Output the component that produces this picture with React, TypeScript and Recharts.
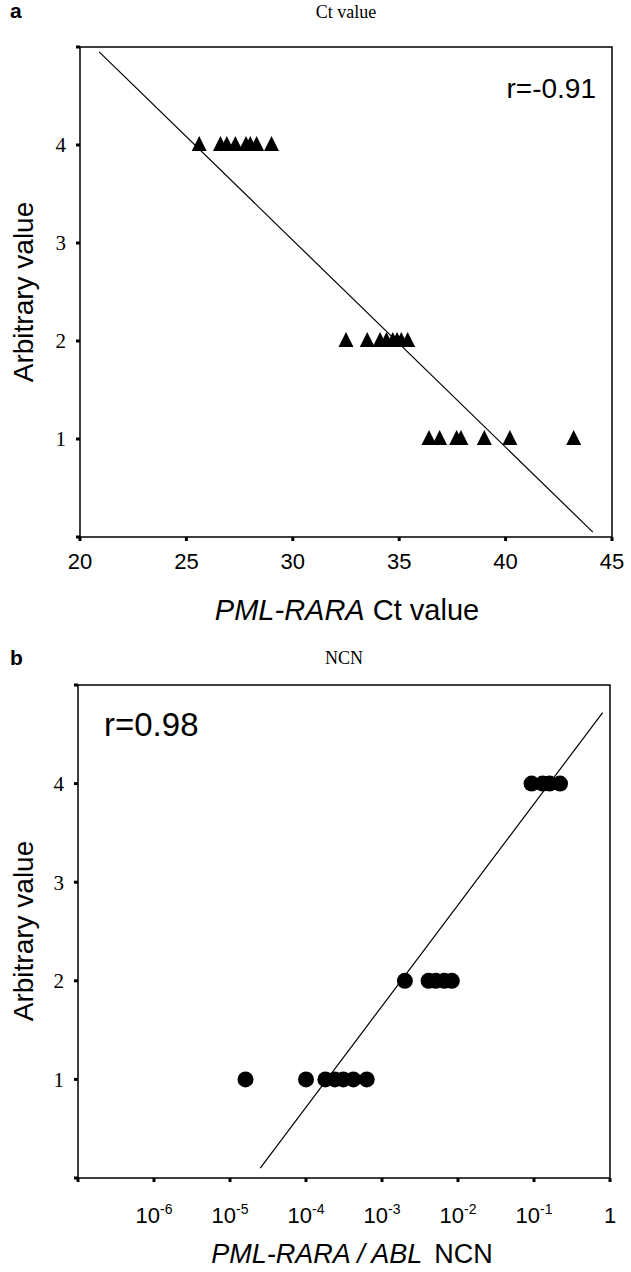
import React from "react";
import { ScatterChart, Scatter, XAxis, YAxis, ReferenceLine, ReferenceArea } from "recharts";

// panel a: PML-RARA Ct value vs arbitrary value
const ctLevel4 = [25.6, 26.6, 26.9, 27.3, 27.8, 28.0, 28.3, 29.0];
const ctLevel2 = [32.5, 33.5, 34.1, 34.4, 34.7, 34.9, 35.1, 35.4];
const ctLevel1 = [36.4, 36.9, 37.7, 37.9, 39.0, 40.2, 43.2];
const ctFit = [
  { x: 20.9, y: 4.95 },
  { x: 44.1, y: 0.05 },
];
const ctTicks = [20, 25, 30, 35, 40, 45];

// panel b: PML-RARA / ABL NCN vs arbitrary value
const ncnLevel4 = [0.093, 0.13, 0.16, 0.22];
const ncnLevel2 = [0.002, 0.0041, 0.0051, 0.0066, 0.0083];
const ncnLevel1 = [1.6e-5, 1.0e-4, 1.8e-4, 2.4e-4, 3.1e-4, 4.2e-4, 6.3e-4];
const ncnFit = [
  { x: 2.5e-5, y: 0.1 },
  { x: 0.8, y: 4.72 },
];
const ncnTicks = [1e-7, 1e-6, 1e-5, 1e-4, 1e-3, 1e-2, 1e-1, 1];

const levelTicks = [0, 1, 2, 3, 4, 5];

const SANS = "'Liberation Sans', Arial, sans-serif";
const SERIF = "'Liberation Serif', 'Times New Roman', serif";

const toPoints = (xs: number[], level: number) => xs.map((x) => ({ x, y: level }));

const Triangle = (props: any) => {
  const { cx, cy } = props;
  return <polygon points={`${cx - 7.5},${cy + 6} ${cx + 7.5},${cy + 6} ${cx},${cy - 9}`} fill="#000" />;
};

const Dot = (props: any) => <circle cx={props.cx} cy={props.cy} r={8} fill="#000" />;

const levelLabel = (v: number) => (v === 0 || v === 5 ? "" : String(v));

function PowerTick({ x, y, payload }: any) {
  const exp = Math.round(Math.log10(payload.value));
  if (exp === -7) return <g />;
  if (exp === 0)
    return (
      <text x={x} y={y + 37} textAnchor="middle" fontFamily={SANS} fontSize={22} fill="#000">
        1
      </text>
    );
  return (
    <text x={x} y={y + 37} textAnchor="middle" fontFamily={SANS} fontSize={22} fill="#000">
      10
      <tspan fontSize={14} dy={-9}>{exp}</tspan>
    </text>
  );
}

const tickLine = { stroke: "#000", strokeWidth: 3 };

export default function App() {
  return (
    <div style={{ position: "absolute", left: 0, top: 0, width: 631, height: 1272, background: "#fff" }}>
      <div style={{ position: "absolute", left: 0, top: 0 }}>
        <ScatterChart width={631} height={600} margin={{ top: 47, right: 19, bottom: 33, left: 20 }}>
          <XAxis
            type="number"
            dataKey="x"
            domain={[20, 45]}
            ticks={ctTicks}
            height={30}
            axisLine={false}
            tickLine={tickLine}
            tickSize={4}
            tickMargin={12}
            tick={{ fill: "#000", fontFamily: SANS, fontSize: 22 }}
          />
          <YAxis
            type="number"
            dataKey="y"
            domain={[0, 5]}
            ticks={levelTicks}
            tickFormatter={levelLabel}
            width={60}
            axisLine={false}
            tickLine={tickLine}
            tickSize={4}
            tickMargin={10}
            tick={{ fill: "#000", fontFamily: SERIF, fontSize: 21 }}
          />
          <ReferenceArea x1={20} x2={45} y1={0} y2={5} fill="none" stroke="#000" strokeWidth={1.5} />
          <ReferenceLine segment={ctFit} stroke="#000" strokeWidth={1.2} />
          <Scatter data={toPoints(ctLevel4, 4)} shape={Triangle} isAnimationActive={false} />
          <Scatter data={toPoints(ctLevel2, 2)} shape={Triangle} isAnimationActive={false} />
          <Scatter data={toPoints(ctLevel1, 1)} shape={Triangle} isAnimationActive={false} />
        </ScatterChart>
      </div>

      <div style={{ position: "absolute", left: 0, top: 637 }}>
        <ScatterChart width={631} height={630} margin={{ top: 48, right: 21, bottom: 52, left: 18 }}>
          <XAxis
            type="number"
            dataKey="x"
            scale="log"
            domain={[1e-7, 1]}
            ticks={ncnTicks}
            height={37}
            axisLine={false}
            tickLine={tickLine}
            tickSize={4}
            tickMargin={4}
            tick={<PowerTick />}
            allowDataOverflow
          />
          <YAxis
            type="number"
            dataKey="y"
            domain={[0, 5]}
            ticks={levelTicks}
            tickFormatter={levelLabel}
            width={60}
            axisLine={false}
            tickLine={tickLine}
            tickSize={4}
            tickMargin={10}
            tick={{ fill: "#000", fontFamily: SERIF, fontSize: 21 }}
          />
          <ReferenceArea x1={1e-7} x2={1} y1={0} y2={5} fill="none" stroke="#000" strokeWidth={1.5} />
          <ReferenceLine segment={ncnFit} stroke="#000" strokeWidth={1.2} />
          <Scatter data={toPoints(ncnLevel4, 4)} shape={Dot} isAnimationActive={false} />
          <Scatter data={toPoints(ncnLevel2, 2)} shape={Dot} isAnimationActive={false} />
          <Scatter data={toPoints(ncnLevel1, 1)} shape={Dot} isAnimationActive={false} />
        </ScatterChart>
      </div>

      <svg width={631} height={1272} style={{ position: "absolute", left: 0, top: 0, pointerEvents: "none" }}>
        <text x={10} y={18} fontFamily={SANS} fontWeight="bold" fontSize={21}>a</text>
        <text x={346} y={18} textAnchor="middle" fontFamily={SERIF} fontSize={18}>Ct value</text>
        <text x={596} y={98} textAnchor="end" fontFamily={SANS} fontSize={28}>r=-0.91</text>
        <text
          x={33}
          y={292}
          textAnchor="middle"
          fontFamily={SANS}
          fontSize={28}
          transform="rotate(-90 33 292)"
        >
          Arbitrary value
        </text>
        <text x={347} y={620} textAnchor="middle" fontFamily={SANS} fontSize={29}>
          <tspan fontStyle="italic">PML-RARA</tspan> Ct value
        </text>

        <text x={10} y={665} fontFamily={SANS} fontWeight="bold" fontSize={21}>b</text>
        <text x={344} y={664} textAnchor="middle" fontFamily={SERIF} fontSize={18}>NCN</text>
        <text x={104} y={736} fontFamily={SANS} fontSize={33}>r=0.98</text>
        <text
          x={33}
          y={931}
          textAnchor="middle"
          fontFamily={SANS}
          fontSize={28}
          transform="rotate(-90 33 931)"
        >
          Arbitrary value
        </text>
        <text x={352} y={1263} textAnchor="middle" fontFamily={SANS} fontSize={27}>
          <tspan fontStyle="italic">PML-RARA / ABL</tspan>
          <tspan dx={12}>NCN</tspan>
        </text>
      </svg>
    </div>
  );
}
